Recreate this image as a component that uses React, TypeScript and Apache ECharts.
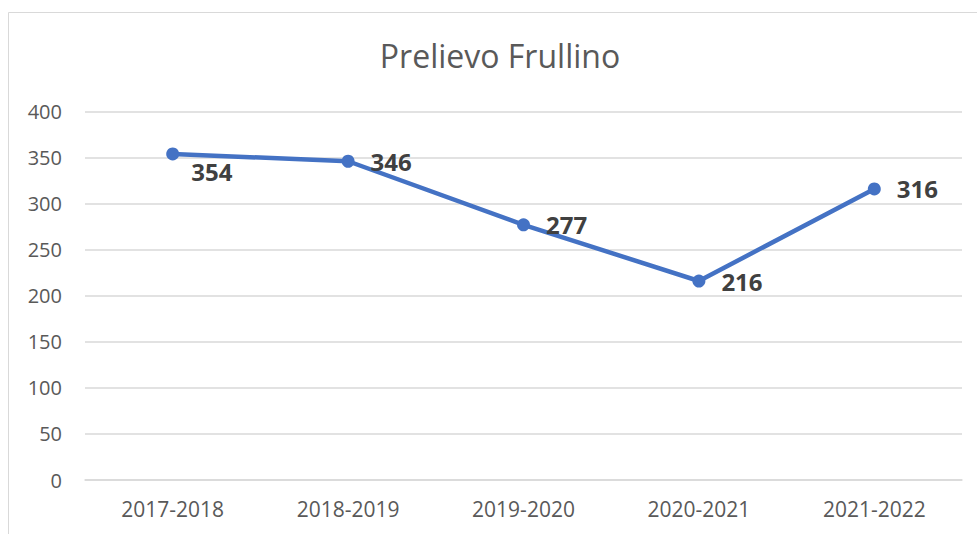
import React, { useEffect, useRef } from "react";
import * as echarts from "echarts";

const categories = ["2017-2018", "2018-2019", "2019-2020", "2020-2021", "2021-2022"];
const values = [354, 346, 277, 216, 316];
const yTicks = { min: 0, max: 400, interval: 50 };
const titleText = "Prelievo Frullino";

export default function App() {
  const ref = useRef<HTMLDivElement>(null);
  useEffect(() => {
    if (!ref.current) return;
    const chart = echarts.init(ref.current, undefined, { renderer: "svg" });
    const font = "'Open Sans', 'Noto Sans', sans-serif";
    chart.setOption({
      animation: false,
      textStyle: { fontFamily: font },
      title: {
        text: titleText,
        left: 495,
        top: 34,
        textAlign: "center",
        textStyle: { fontSize: 32, fontWeight: "normal", color: "#595959", fontFamily: font },
      },
      graphic: [
        {
          type: "rect",
          shape: { x: 8.5, y: 12.5, width: 1000, height: 600 },
          style: { fill: "none", stroke: "#d9d9d9", lineWidth: 1 },
          silent: true,
          z: -10,
        },
      ],
      grid: { left: 85, right: 15, top: 111.5, bottom: 54, containLabel: false },
      xAxis: {
        type: "category",
        data: categories,
        boundaryGap: true,
        axisLine: { show: true, lineStyle: { color: "#d9d9d9", width: 1.5 } },
        axisTick: { show: false },
        axisLabel: { color: "#595959", fontSize: 21, margin: 18, fontFamily: font },
      },
      yAxis: {
        type: "value",
        min: yTicks.min,
        max: yTicks.max,
        interval: yTicks.interval,
        axisLine: { show: false },
        axisTick: { show: false },
        splitLine: { lineStyle: { color: "#d9d9d9", width: 1.5 } },
        axisLabel: { color: "#595959", fontSize: 20, margin: 23, fontFamily: font },
      },
      series: [
        {
          type: "line",
          data: values.map((v, i) =>
            i === 0
              ? { value: v, label: { offset: [-4, 18] } }
              : { value: v }
          ),
          symbol: "circle",
          symbolSize: 13,
          lineStyle: { color: "#4472C4", width: 4.5 },
          itemStyle: { color: "#4472C4" },
          label: {
            show: true,
            position: "right",
            distance: 16,
            offset: [0, 0],
            color: "#404040",
            fontSize: 24,
            fontWeight: "bold",
            fontFamily: font,
          },
        },
      ],
    });
    return () => chart.dispose();
  }, []);
  return (
    <div
      ref={ref}
      style={{ position: "absolute", left: 0, top: 0, width: 977, height: 534, background: "#fff" }}
    />
  );
}
